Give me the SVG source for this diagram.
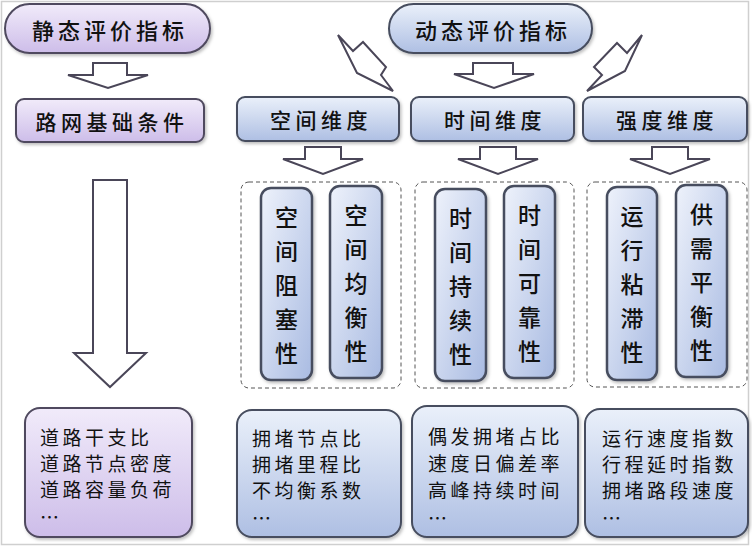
<svg xmlns="http://www.w3.org/2000/svg" width="752" height="547" viewBox="0 0 752 547">
<defs>
<linearGradient id="gp" x1="0" y1="0" x2="0" y2="1"><stop offset="0" stop-color="#f1ebfa"/><stop offset="1" stop-color="#cdbde9"/></linearGradient>
<linearGradient id="gb" x1="0" y1="0" x2="0" y2="1"><stop offset="0" stop-color="#eaf0fa"/><stop offset="1" stop-color="#aebfe3"/></linearGradient>
<linearGradient id="gbv" x1="0" y1="0" x2="1" y2="1"><stop offset="0" stop-color="#eef2fb"/><stop offset="1" stop-color="#a9bbe2"/></linearGradient>
<filter id="sh" x="-10%" y="-10%" width="130%" height="130%"><feDropShadow dx="1.5" dy="2" stdDeviation="1.5" flood-color="#000" flood-opacity="0.25"/></filter>
</defs>
<style>
.t{font-family:"Noto Sans CJK SC","Noto Sans CJK JP",sans-serif;fill:#111;}
.title{font-size:22px;letter-spacing:4px;text-anchor:middle;dominant-baseline:central;font-weight:500;}
.dim{font-size:21px;letter-spacing:4.5px;text-anchor:middle;dominant-baseline:central;font-weight:500;}
.vert{font-size:23px;text-anchor:middle;dominant-baseline:central;font-weight:500;}
.list{font-size:19px;letter-spacing:3.5px;dominant-baseline:central;}
.pur{fill:url(#gp);stroke:#4f4a5e;stroke-width:2;filter:url(#sh);}
.blu{fill:url(#gb);stroke:#464d5e;stroke-width:2;filter:url(#sh);}
.bluv{fill:url(#gbv);stroke:#464d5e;stroke-width:2.5;filter:url(#sh);}
.dash{fill:none;stroke:#555;stroke-width:1;stroke-dasharray:4 3;}
.arr{fill:#fff;stroke:#4a4658;stroke-width:2;stroke-linejoin:miter;}
</style>
<rect x="0" y="0" width="752" height="547" fill="#fff"/>
<rect x="1.5" y="1.5" width="747" height="543" fill="none" stroke="#cfcfcf" stroke-width="1.5"/>

<g id="connectors">
<polygon class="arr" points="93,63 127,63 127,75 148,75 108,88 68,75 93,75"/>
<polygon class="arr" points="473,63 513,63 513,74 534,74 494,88 454,74 473,74"/>
<polygon class="arr" points="338,35 353,51 363,42 386,67 381,75 393,91 357,73"/>
<polygon class="arr" points="642,35 627,53 617,43 594,67 602,75 587,91 625,71"/>
<polygon class="arr" points="305,147 341,147 341,159 363,159 323,174 283,159 305,159"/>
<polygon class="arr" points="480,147 516,147 516,159 538,159 498,174 458,159 480,159"/>
<polygon class="arr" points="652,147 688,147 688,159 710,159 670,174 630,159 652,159"/>
<polygon class="arr" points="93,180 127,180 127,353 146,353 110,387 74,353 93,353"/>
</g>

<g id="static-title"><rect class="pur" x="5" y="4" width="205" height="49" rx="24.5"/><text class="t title" x="110" y="29">静态评价指标</text></g>
<g id="dynamic-title"><rect class="blu" x="389" y="4" width="203" height="49" rx="24.5"/><text class="t title" x="493" y="29">动态评价指标</text></g>
<g id="road-basis"><rect class="pur" x="16" y="99" width="188" height="43" rx="8"/><text class="t dim" x="112" y="121">路网基础条件</text></g>
<g id="space-dim"><rect class="blu" x="237" y="97" width="162" height="44" rx="8"/><text class="t dim" x="321" y="119">空间维度</text></g>
<g id="time-dim"><rect class="blu" x="411" y="97" width="163" height="44" rx="8"/><text class="t dim" x="495" y="119">时间维度</text></g>
<g id="strength-dim"><rect class="blu" x="583" y="97" width="164" height="44" rx="8"/><text class="t dim" x="667" y="119">强度维度</text></g>

<g id="space-cluster"><rect class="dash" x="241" y="182" width="160" height="206" rx="8"/></g>
<g id="time-cluster"><rect class="dash" x="415" y="182" width="159" height="206" rx="8"/></g>
<g id="strength-cluster"><rect class="dash" x="587" y="182" width="160" height="205" rx="8"/></g>

<g id="space-block"><rect class="bluv" x="261" y="188" width="51" height="192" rx="10"/>
<text class="t vert"><tspan x="286.5" y="216">空</tspan><tspan x="286.5" y="250">间</tspan><tspan x="286.5" y="284">阻</tspan><tspan x="286.5" y="318">塞</tspan><tspan x="286.5" y="352">性</tspan></text></g>
<g id="space-balance"><rect class="bluv" x="330" y="186" width="52" height="192" rx="10"/>
<text class="t vert"><tspan x="356" y="214">空</tspan><tspan x="356" y="248">间</tspan><tspan x="356" y="282">均</tspan><tspan x="356" y="316">衡</tspan><tspan x="356" y="350">性</tspan></text></g>
<g id="time-duration"><rect class="bluv" x="435" y="189" width="51" height="192" rx="10"/>
<text class="t vert"><tspan x="460.5" y="217">时</tspan><tspan x="460.5" y="251">间</tspan><tspan x="460.5" y="285">持</tspan><tspan x="460.5" y="319">续</tspan><tspan x="460.5" y="353">性</tspan></text></g>
<g id="time-reliability"><rect class="bluv" x="504" y="186" width="51" height="192" rx="10"/>
<text class="t vert"><tspan x="529.5" y="214">时</tspan><tspan x="529.5" y="248">间</tspan><tspan x="529.5" y="282">可</tspan><tspan x="529.5" y="316">靠</tspan><tspan x="529.5" y="350">性</tspan></text></g>
<g id="run-viscosity"><rect class="bluv" x="607" y="187" width="50" height="193" rx="10"/>
<text class="t vert"><tspan x="632" y="215">运</tspan><tspan x="632" y="249">行</tspan><tspan x="632" y="283">粘</tspan><tspan x="632" y="317">滞</tspan><tspan x="632" y="351">性</tspan></text></g>
<g id="supply-demand"><rect class="bluv" x="676" y="185" width="51" height="192" rx="10"/>
<text class="t vert"><tspan x="701.5" y="213">供</tspan><tspan x="701.5" y="247">需</tspan><tspan x="701.5" y="281">平</tspan><tspan x="701.5" y="315">衡</tspan><tspan x="701.5" y="349">性</tspan></text></g>

<g id="static-list"><rect class="pur" x="25" y="408" width="167" height="129" rx="15"/>
<text class="t list"><tspan x="40" y="436">道路干支比</tspan><tspan x="40" y="462">道路节点密度</tspan><tspan x="40" y="488">道路容量负荷</tspan><tspan x="40" y="516">…</tspan></text></g>
<g id="space-list"><rect class="blu" x="237" y="410" width="164" height="127" rx="15"/>
<text class="t list"><tspan x="252" y="437">拥堵节点比</tspan><tspan x="252" y="463">拥堵里程比</tspan><tspan x="252" y="489">不均衡系数</tspan><tspan x="252" y="517">…</tspan></text></g>
<g id="time-list"><rect class="blu" x="412" y="406" width="166" height="131" rx="15"/>
<text class="t list"><tspan x="428" y="435">偶发拥堵占比</tspan><tspan x="428" y="462">速度日偏差率</tspan><tspan x="428" y="489">高峰持续时间</tspan><tspan x="428" y="517">…</tspan></text></g>
<g id="strength-list"><rect class="blu" x="585" y="409" width="163" height="128" rx="15"/>
<text class="t list"><tspan x="602" y="437">运行速度指数</tspan><tspan x="602" y="463">行程延时指数</tspan><tspan x="602" y="489">拥堵路段速度</tspan><tspan x="602" y="517">…</tspan></text></g>
</svg>
